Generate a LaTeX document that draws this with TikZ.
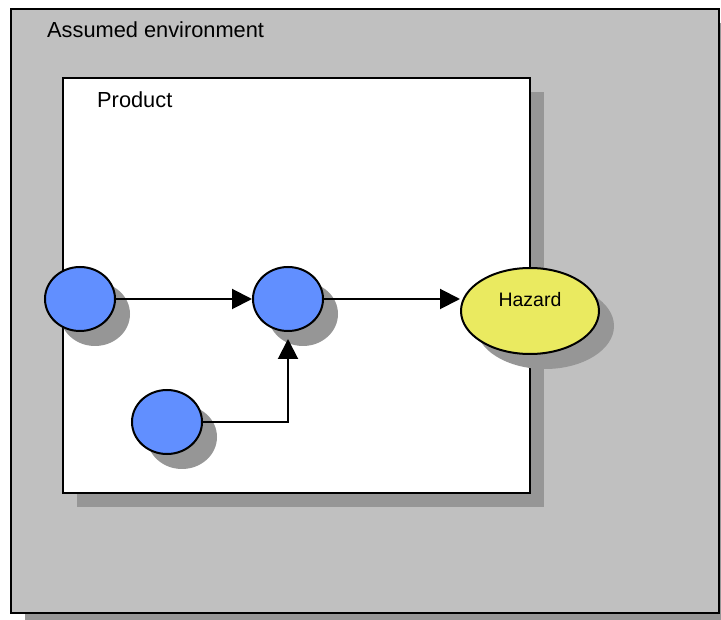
\documentclass[tikz,border=0pt]{standalone}
\usepackage{fontspec}
\setmainfont{Liberation Sans}
\usetikzlibrary{shapes.geometric,shadows,arrows.meta}

\definecolor{envgray}{RGB}{192,192,192}
\definecolor{shadowgray}{RGB}{150,150,150}
\definecolor{nodeblue}{RGB}{97,143,255}
\definecolor{hazyellow}{RGB}{234,234,96}

\tikzset{
  boxshadow/.style={drop shadow={shadow xshift=14pt,shadow yshift=-14pt,fill=shadowgray,opacity=1}},
  frame/.style={rectangle,draw=black,line width=2.6pt,inner sep=0pt,boxshadow},
  blob/.style={ellipse,draw=black,line width=2pt,fill=nodeblue,inner sep=0pt,
    minimum width=70pt,minimum height=64pt,
    drop shadow={shadow xshift=15pt,shadow yshift=-15pt,fill=shadowgray,opacity=1}},
  hazardnode/.style={ellipse,draw=black,line width=2pt,fill=hazyellow,inner sep=0pt,
    minimum width=138pt,minimum height=86pt,
    drop shadow={shadow xshift=15pt,shadow yshift=-15pt,fill=shadowgray,opacity=1}},
  flow/.style={line width=2pt,-{Triangle[length=20pt,width=20pt]}},
  caption/.style={anchor=base west,font=\fontsize{21.8}{24}\selectfont,inner sep=0pt}
}

\begin{document}
\begin{tikzpicture}[x=1pt,y=-1pt]
  \useasboundingbox (0,0) rectangle (721,620);
  \clip (0,0) rectangle (721,620);

  % environment and product frames
  \node[frame,fill=envgray,minimum width=708pt,minimum height=604pt] (env) at (365,311) {};
  \node[caption] (envtxt) at (47,38) {Assumed environment};
  \node[frame,fill=white,minimum width=467pt,minimum height=415pt] (prod) at (296.5,285.5) {};
  \node[caption] (prodtxt) at (97,108) {Product};

  % causal chain
  \node[blob] (lc) at (80,299) {};
  \node[blob] (mc) at (288,299) {};
  \node[blob] (bc) at (167,422) {};
  \node[hazardnode] (hz) at (530,311) {};
  \node[anchor=base,font=\fontsize{19.5}{22}\selectfont,inner sep=0pt] (hztxt)
    at ([yshift=4pt]hz.center) {Hazard};

  \draw[flow] (lc.east) -- (mc.west);
  \draw[flow] (mc.east) -- (mc.east -| hz.west);
  \draw[flow,shorten >=7pt] (bc.east) -| (mc.south);
\end{tikzpicture}
\end{document}
